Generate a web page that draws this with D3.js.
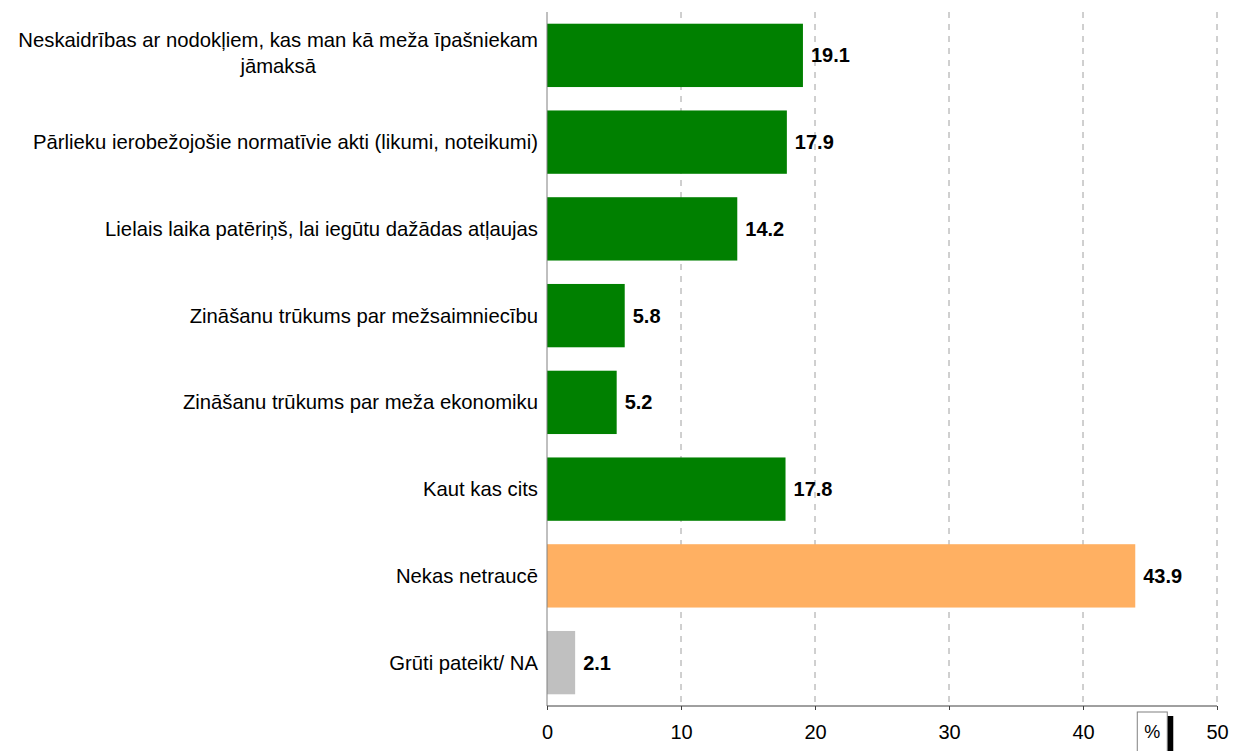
<!DOCTYPE html>
<html>
<head>
<meta charset="utf-8">
<script src="https://cdn.jsdelivr.net/npm/d3@7"></script>
<style>
  body { margin: 0; background: #fff; }
  svg { display: block; font-family: 'Liberation Sans', Arial, sans-serif; }
</style>
</head>
<body>
<svg id="chart"></svg>
<script>
const categories = [
  ['Neskaidrības ar nodokļiem, kas man kā meža īpašniekam', 'jāmaksā'],
  ['Pārlieku ierobežojošie normatīvie akti (likumi, noteikumi)'],
  ['Lielais laika patēriņš, lai iegūtu dažādas atļaujas'],
  ['Zināšanu trūkums par mežsaimniecību'],
  ['Zināšanu trūkums par meža ekonomiku'],
  ['Kaut kas cits'],
  ['Nekas netraucē'],
  ['Grūti pateikt/ NA'],
];
const values = [19.1, 17.9, 14.2, 5.8, 5.2, 17.8, 43.9, 2.1];
const barColors = ['#008000', '#008000', '#008000', '#008000', '#008000', '#008000', '#FFB062', '#C0C0C0'];
const xTicks = [0, 10, 20, 30, 40, 50];
const unitLabel = '%';

const width = 1234;
const height = 751;
const margin = { top: 12, right: 17, bottom: 45, left: 547 };
const innerW = width - margin.left - margin.right;
const innerH = height - margin.top - margin.bottom;

const svgEl = d3.select('#chart').attr('width', width).attr('height', height);
const svg = svgEl.append('g').attr('transform', `translate(${margin.left},${margin.top})`);

const x = d3.scaleLinear().domain([0, 50]).range([0, innerW]);
const y = d3.scaleBand().domain(d3.range(values.length)).range([0, innerH]).paddingInner(0.27).paddingOuter(0.135);

// dashed gridlines
svg.append('g')
  .selectAll('line')
  .data(xTicks.slice(1))
  .join('line')
  .attr('x1', (d) => x(d)).attr('x2', (d) => x(d))
  .attr('y1', 0).attr('y2', innerH)
  .attr('stroke', '#a0a0a0')
  .attr('stroke-width', 1)
  .attr('stroke-dasharray', '6,6');

// bars
svg.append('g')
  .selectAll('rect')
  .data(values)
  .join('rect')
  .attr('x', x(0))
  .attr('y', (d, i) => y(i))
  .attr('width', (d) => x(d) - x(0))
  .attr('height', y.bandwidth())
  .attr('fill', (d, i) => barColors[i]);

// value labels
svg.append('g')
  .selectAll('text')
  .data(values)
  .join('text')
  .attr('x', (d) => x(d) + 8)
  .attr('y', (d, i) => y(i) + y.bandwidth() / 2)
  .attr('dy', '0.35em')
  .attr('font-size', 20)
  .attr('font-weight', 'bold')
  .attr('fill', '#000')
  .text((d) => d.toFixed(1));

// category labels
const labelRight = -9;
const lineH = 26;
categories.forEach((lines, i) => {
  const cy = y(i) + y.bandwidth() / 2 - (lines.length - 1) * 2;
  const g = svg.append('g');
  const texts = g.selectAll('text')
    .data(lines)
    .join('text')
    .attr('font-size', 20.3)
    .attr('fill', '#000')
    .attr('y', (d, j) => cy + (j - (lines.length - 1) / 2) * lineH)
    .attr('dy', '0.35em')
    .text((d) => d);
  if (lines.length > 1) {
    const maxW = d3.max(texts.nodes(), (n) => n.getComputedTextLength());
    texts.attr('text-anchor', 'middle').attr('x', labelRight - maxW / 2);
  } else {
    texts.attr('text-anchor', 'end').attr('x', labelRight);
  }
});

// y axis line
svg.append('line')
  .attr('x1', 0).attr('x2', 0)
  .attr('y1', 0).attr('y2', innerH)
  .attr('stroke', '#808080');

// x axis
const xAxis = svg.append('g')
  .attr('transform', `translate(0,${innerH})`)
  .call(d3.axisBottom(x).tickValues(xTicks).tickSize(4).tickPadding(15).tickFormat(d3.format('d')));
xAxis.select('.domain').attr('stroke', '#404040').attr('d', `M0,0H${innerW}`);
xAxis.selectAll('.tick line').attr('stroke', '#404040');
xAxis.selectAll('.tick text')
  .attr('font-size', 20)
  .attr('font-family', "'Liberation Sans', Arial, sans-serif")
  .attr('fill', '#000');

// unit box with shadow
const bx = x(44.05);
const by = innerH + 6;
svg.append('rect')
  .attr('x', bx + 6).attr('y', by + 4)
  .attr('width', 30).attr('height', 50)
  .attr('fill', '#000');
svg.append('rect')
  .attr('x', bx).attr('y', by)
  .attr('width', 30).attr('height', 50)
  .attr('fill', '#fff')
  .attr('stroke', '#808080');
svg.append('text')
  .attr('x', bx + 15).attr('y', by + 20)
  .attr('dy', '0.35em')
  .attr('text-anchor', 'middle')
  .attr('font-size', 18)
  .text(unitLabel);
</script>
</body>
</html>
